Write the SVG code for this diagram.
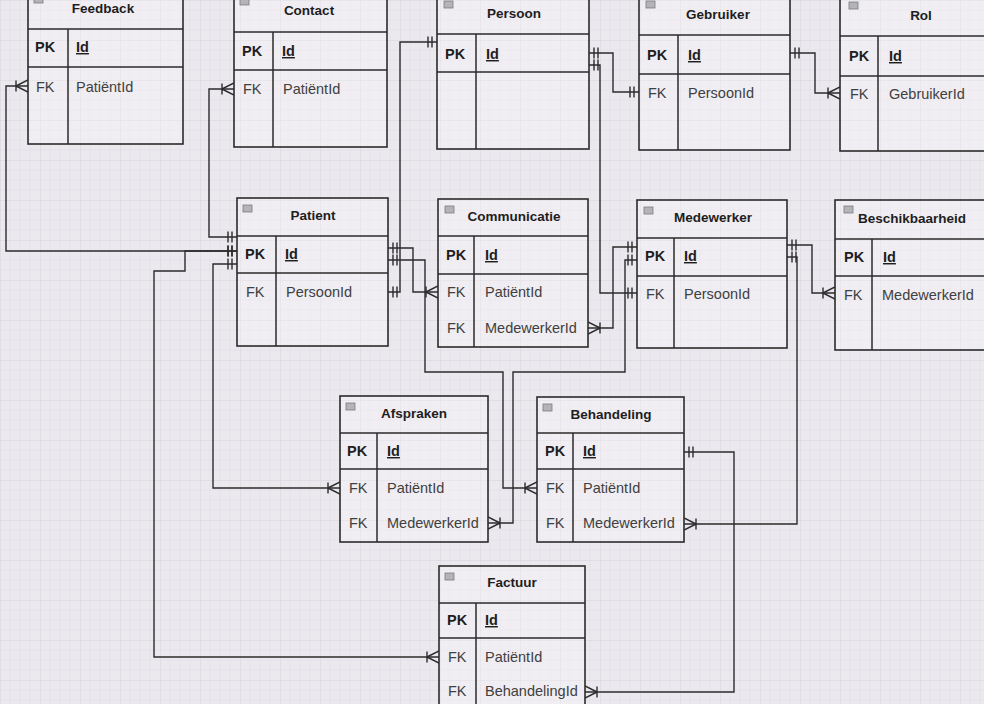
<svg xmlns="http://www.w3.org/2000/svg" width="984" height="704" viewBox="0 0 984 704">
<defs>
<style>
.tbl{fill:#ffffff;fill-opacity:0.25;stroke:#2b2b2b;stroke-width:1.6}
.sep{stroke:#2b2b2b;stroke-width:1.5;fill:none}
.ln{stroke:#2b2b2b;stroke-width:1.4;fill:none}
.title{font-family:"Liberation Sans",Arial,sans-serif;font-size:13.5px;font-weight:bold;fill:#1e1e1e;text-anchor:middle}
.pk{font-family:"Liberation Sans",Arial,sans-serif;font-size:14.5px;font-weight:bold;fill:#1e1e1e}
.fk{font-family:"Liberation Sans",Arial,sans-serif;font-size:14.5px;fill:#404040}
.u{text-decoration:underline}
.ico{fill:#b4b4b8;stroke:#7a7a80;stroke-width:0.8}
</style>
<pattern id="grid" width="40" height="40" patternUnits="userSpaceOnUse">
<path d="M10 0V40M20 0V40M30 0V40M0 10H40M0 20H40M0 30H40" stroke="#e3e0e8" stroke-width="0.7" fill="none"/>
<path d="M0 0V40M0 0H40" stroke="#d4d0da" stroke-width="0.9" fill="none"/>
</pattern>
<marker id="one" viewBox="0 0 20 20" refX="20" refY="10" markerWidth="20" markerHeight="20" markerUnits="userSpaceOnUse" orient="auto-start-reverse">
<path d="M11 4.5V15.5M15 4.5V15.5" stroke="#2b2b2b" stroke-width="1.4" fill="none"/>
</marker>
<marker id="many" viewBox="0 0 20 20" refX="20" refY="10" markerWidth="20" markerHeight="20" markerUnits="userSpaceOnUse" orient="auto">
<path d="M8 4.5V15.5M8 10L20 4M8 10L20 16" stroke="#2b2b2b" stroke-width="1.4" fill="none"/>
</marker>
</defs>
<rect width="984" height="704" fill="#ebe8ee"/>
<rect width="984" height="704" fill="url(#grid)"/>

<g id="connectors">
<path class="ln" marker-start="url(#one)" marker-end="url(#many)" d="M237 251H6V86H28"/>
<path class="ln" marker-start="url(#one)" marker-end="url(#many)" d="M237 237H209V89H234"/>
<path class="ln" marker-start="url(#one)" marker-end="url(#many)" d="M237 251H185V271H154V657H439"/>
<path class="ln" marker-start="url(#one)" marker-end="url(#many)" d="M237 264H213V488H340"/>
<path class="ln" marker-start="url(#one)" marker-end="url(#one)" d="M437 42H400V292H388"/>
<path class="ln" marker-start="url(#one)" marker-end="url(#many)" d="M388 248H413V292H438"/>
<path class="ln" marker-start="url(#one)" marker-end="url(#many)" d="M388 260H425V372H503V488H537"/>
<path class="ln" marker-start="url(#one)" marker-end="url(#one)" d="M589 53H613V92H639"/>
<path class="ln" marker-start="url(#one)" marker-end="url(#one)" d="M589 65H600V293H637"/>
<path class="ln" marker-start="url(#one)" marker-end="url(#many)" d="M790 53H815V93H840"/>
<path class="ln" marker-start="url(#one)" marker-end="url(#many)" d="M637 247H613V328H588"/>
<path class="ln" marker-start="url(#one)" marker-end="url(#many)" d="M637 260H625V372H513V523H488"/>
<path class="ln" marker-start="url(#one)" marker-end="url(#many)" d="M787 245H812V293H835"/>
<path class="ln" marker-start="url(#one)" marker-end="url(#many)" d="M787 257H797V524H684"/>
<path class="ln" marker-start="url(#one)" marker-end="url(#many)" d="M684 452H734V692H585"/>
</g>

<g id="feedback">
<rect class="tbl" x="28" y="-12" width="155" height="156"/>
<path class="sep" d="M28 29H183M28 67H183M68 29V144"/>
<rect class="ico" x="34" y="-4" width="9" height="7"/>
<text class="title" x="103" y="13">Feedback</text>
<text class="pk" x="35" y="52">PK</text><text class="pk u" x="76" y="52">Id</text>
<text class="fk" x="36" y="92">FK</text><text class="fk" x="76" y="92">PatiëntId</text>
</g>

<g id="contact">
<rect class="tbl" x="234" y="-8" width="153" height="155"/>
<path class="sep" d="M234 32H387M234 70H387M273 32V147"/>
<rect class="ico" x="240" y="-2" width="9" height="7"/>
<text class="title" x="309" y="15">Contact</text>
<text class="pk" x="242" y="56">PK</text><text class="pk u" x="282" y="56">Id</text>
<text class="fk" x="243" y="94">FK</text><text class="fk" x="283" y="94">PatiëntId</text>
</g>

<g id="persoon">
<rect class="tbl" x="437" y="-6" width="152" height="155"/>
<path class="sep" d="M437 34H589M437 72H589M476 34V149"/>
<rect class="ico" x="444" y="1" width="9" height="7"/>
<text class="title" x="514" y="18">Persoon</text>
<text class="pk" x="445" y="59">PK</text><text class="pk u" x="486" y="59">Id</text>
</g>

<g id="gebruiker">
<rect class="tbl" x="639" y="-6" width="151" height="156"/>
<path class="sep" d="M639 35H790M639 74H790M678 35V150"/>
<rect class="ico" x="646" y="1" width="9" height="7"/>
<text class="title" x="718" y="19">Gebruiker</text>
<text class="pk" x="647" y="60">PK</text><text class="pk u" x="688" y="60">Id</text>
<text class="fk" x="648" y="98">FK</text><text class="fk" x="688" y="98">PersoonId</text>
</g>

<g id="rol">
<rect class="tbl" x="840" y="-6" width="152" height="157"/>
<path class="sep" d="M840 36H992M840 76H992M878 36V151"/>
<rect class="ico" x="849" y="2" width="9" height="7"/>
<text class="title" x="921" y="20">Rol</text>
<text class="pk" x="849" y="61">PK</text><text class="pk u" x="889" y="61">Id</text>
<text class="fk" x="850" y="99">FK</text><text class="fk" x="889" y="99">GebruikerId</text>
</g>

<g id="patient">
<rect class="tbl" x="237" y="198" width="151" height="148"/>
<path class="sep" d="M237 236H388M237 273H388M276 236V346"/>
<rect class="ico" x="243" y="205" width="9" height="7"/>
<text class="title" x="313" y="220">Patient</text>
<text class="pk" x="245" y="259">PK</text><text class="pk u" x="285" y="259">Id</text>
<text class="fk" x="246" y="297">FK</text><text class="fk" x="286" y="297">PersoonId</text>
</g>

<g id="communicatie">
<rect class="tbl" x="438" y="199" width="150" height="148"/>
<path class="sep" d="M438 236H588M438 274H588M474 236V347"/>
<rect class="ico" x="445" y="206" width="9" height="7"/>
<text class="title" x="514" y="221">Communicatie</text>
<text class="pk" x="446" y="260">PK</text><text class="pk u" x="485" y="260">Id</text>
<text class="fk" x="447" y="297">FK</text><text class="fk" x="485" y="297">PatiëntId</text>
<text class="fk" x="447" y="333">FK</text><text class="fk" x="485" y="333">MedewerkerId</text>
</g>

<g id="medewerker">
<rect class="tbl" x="637" y="200" width="150" height="148"/>
<path class="sep" d="M637 238H787M637 276H787M674 238V348"/>
<rect class="ico" x="644" y="207" width="9" height="7"/>
<text class="title" x="713" y="222">Medewerker</text>
<text class="pk" x="645" y="261">PK</text><text class="pk u" x="684" y="261">Id</text>
<text class="fk" x="646" y="299">FK</text><text class="fk" x="684" y="299">PersoonId</text>
</g>

<g id="beschikbaarheid">
<rect class="tbl" x="835" y="200" width="157" height="150"/>
<path class="sep" d="M835 239H992M835 276H992M872 239V350"/>
<rect class="ico" x="844" y="206" width="9" height="7"/>
<text class="title" x="858" y="223" style="text-anchor:start">Beschikbaarheid</text>
<text class="pk" x="844" y="262">PK</text><text class="pk u" x="883" y="262">Id</text>
<text class="fk" x="844" y="300">FK</text><text class="fk" x="882" y="300">MedewerkerId</text>
</g>

<g id="afspraken">
<rect class="tbl" x="340" y="396" width="148" height="146"/>
<path class="sep" d="M340 433H488M340 469H488M377 433V542"/>
<rect class="ico" x="346" y="403" width="9" height="7"/>
<text class="title" x="414" y="418">Afspraken</text>
<text class="pk" x="347" y="456">PK</text><text class="pk u" x="387" y="456">Id</text>
<text class="fk" x="349" y="493">FK</text><text class="fk" x="387" y="493">PatiëntId</text>
<text class="fk" x="349" y="528">FK</text><text class="fk" x="387" y="528">MedewerkerId</text>
</g>

<g id="behandeling">
<rect class="tbl" x="537" y="397" width="147" height="145"/>
<path class="sep" d="M537 433H684M537 469H684M573 433V542"/>
<rect class="ico" x="543" y="404" width="9" height="7"/>
<text class="title" x="611" y="419">Behandeling</text>
<text class="pk" x="545" y="456">PK</text><text class="pk u" x="583" y="456">Id</text>
<text class="fk" x="546" y="493">FK</text><text class="fk" x="583" y="493">PatiëntId</text>
<text class="fk" x="546" y="528">FK</text><text class="fk" x="583" y="528">MedewerkerId</text>
</g>

<g id="factuur">
<rect class="tbl" x="439" y="566" width="146" height="146"/>
<path class="sep" d="M439 603H585M439 638H585M476 603V712"/>
<rect class="ico" x="445" y="573" width="9" height="7"/>
<text class="title" x="512" y="587">Factuur</text>
<text class="pk" x="447" y="625">PK</text><text class="pk u" x="485" y="625">Id</text>
<text class="fk" x="448" y="662">FK</text><text class="fk" x="485" y="662">PatiëntId</text>
<text class="fk" x="448" y="696">FK</text><text class="fk" x="485" y="696">BehandelingId</text>
</g>
</svg>
